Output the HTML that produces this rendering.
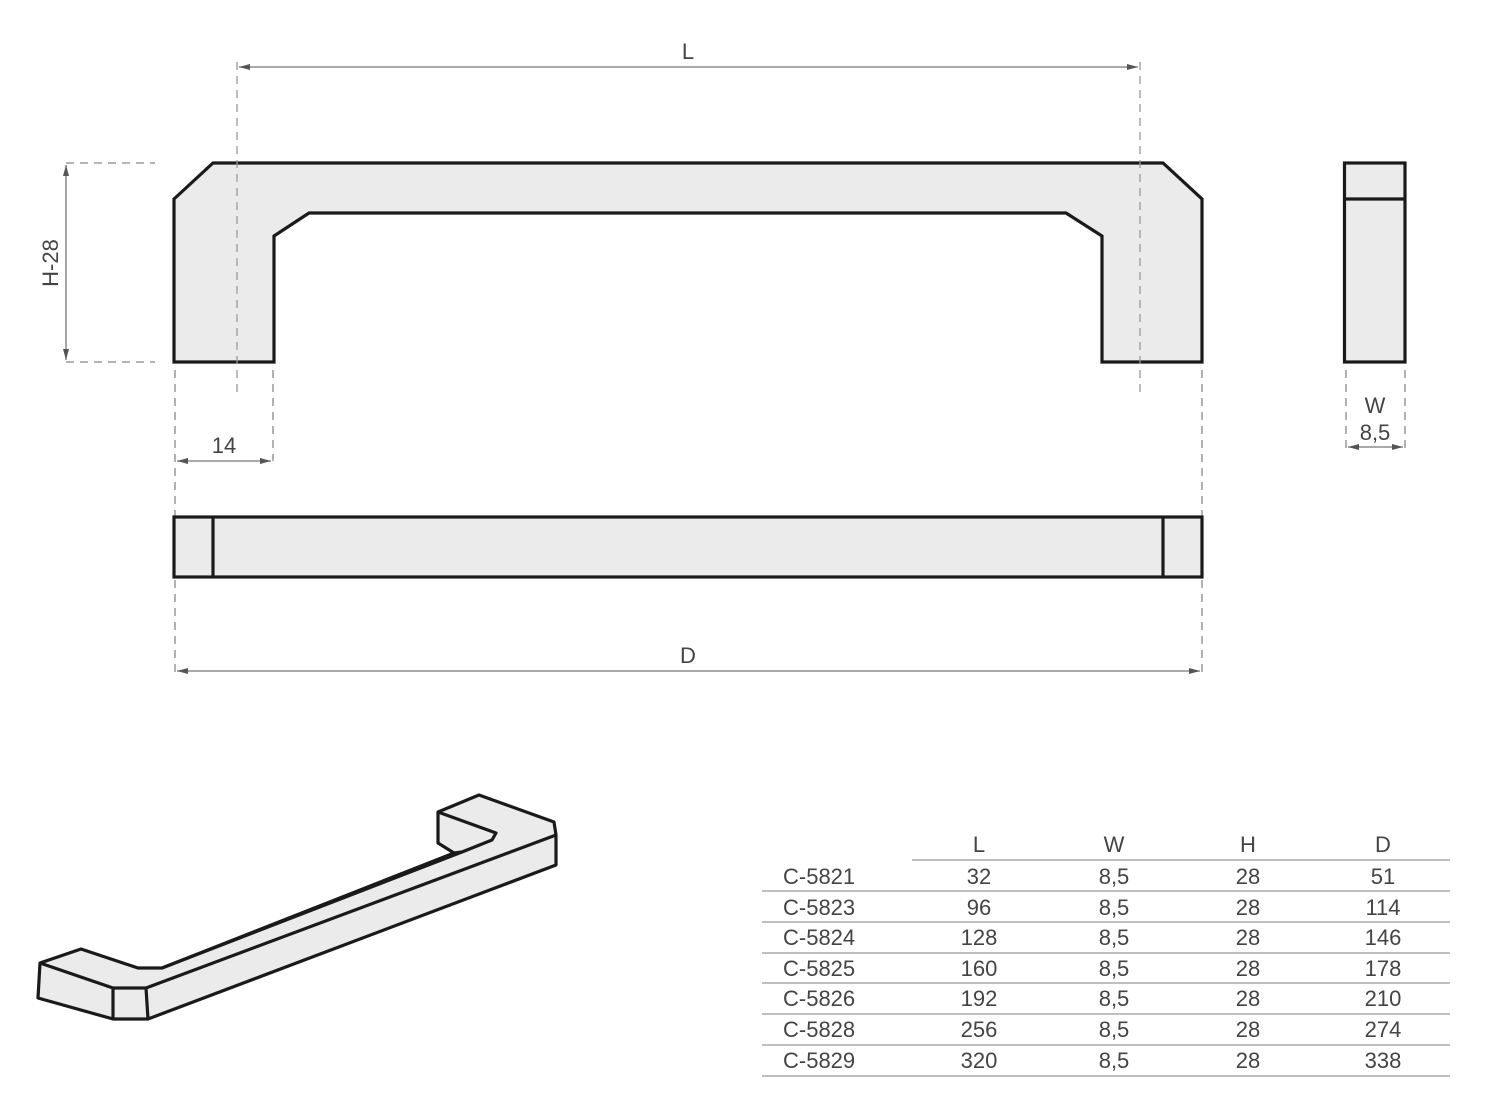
<!DOCTYPE html>
<html><head><style>
html,body{margin:0;padding:0;background:#fff;}
svg{display:block;}
text{font-family:"Liberation Sans",sans-serif;fill:#444;}
</style></head><body>
<svg width="1486" height="1116" viewBox="0 0 1486 1116" xmlns="http://www.w3.org/2000/svg">
<defs>
<marker id="a" markerWidth="12" markerHeight="8" refX="11" refY="4" orient="auto-start-reverse" markerUnits="userSpaceOnUse">
<path d="M0,1 L11,4 L0,7 Z" fill="#555"/></marker>
</defs>
<g stroke="#888" stroke-width="1.3" stroke-dasharray="8,6" fill="none">
<line x1="66" y1="163" x2="155" y2="163"/>
<line x1="66" y1="362" x2="155" y2="362"/>
<line x1="175" y1="370" x2="175" y2="675"/>
<line x1="273" y1="370" x2="273" y2="461"/>
<line x1="1202" y1="370" x2="1202" y2="675"/>
<line x1="1346" y1="370" x2="1346" y2="448"/>
<line x1="1405" y1="370" x2="1405" y2="448"/>
</g>
<g stroke="#777" stroke-width="1.3" fill="none">
<line x1="239" y1="67" x2="1138" y2="67" marker-start="url(#a)" marker-end="url(#a)"/>
<line x1="66" y1="165" x2="66" y2="360" marker-start="url(#a)" marker-end="url(#a)"/>
<line x1="177" y1="461" x2="271" y2="461" marker-start="url(#a)" marker-end="url(#a)"/>
<line x1="177" y1="671" x2="1200" y2="671" marker-start="url(#a)" marker-end="url(#a)"/>
<line x1="1348" y1="447" x2="1403" y2="447" marker-start="url(#a)" marker-end="url(#a)"/>
</g>
<g fill="#ebebeb" stroke="#1a1a1a" stroke-width="3.2" stroke-linejoin="miter">
<path d="M174,199 L213,163 L1163,163 L1202,199 L1202,362 L1102,362 L1102,236 L1066,213 L309,213 L274,236 L274,362 L174,362 Z"/>
<rect x="1344.5" y="163" width="60.5" height="199"/>
<line x1="1344" y1="199" x2="1405" y2="199"/>
<rect x="174" y="517" width="1028" height="60"/>
<line x1="213" y1="517" x2="213" y2="577"/>
<line x1="1163" y1="517" x2="1163" y2="577"/>
</g>
<g stroke="#999" stroke-width="1.3" stroke-dasharray="8,6" fill="none">
<line x1="237" y1="62" x2="237" y2="392"/>
<line x1="1140" y1="62" x2="1140" y2="392"/>
</g>
<g fill="#ebebeb" stroke="#1a1a1a" stroke-width="3.2" stroke-linejoin="round">
<path d="M40,963 L81,949 L138,968 L162,968 L454,853 L438,843 L438,812 L479,795 L554,822 L556,835 L556,865 L148,1019 L113,1019 L38,998 Z"/>
<path d="M40,963 L113,988 L146,988 L556,835" fill="none"/>
<path d="M113,988 L113,1019 M146,988 L148,1019" fill="none"/>
<path d="M438,812 L496,833 L492,840 L462,852 L162,968" fill="none"/>
<path d="M462,852 L454,853" fill="none"/>
</g>
<g font-size="22" text-anchor="middle">
<text x="688" y="59">L</text>
<text x="688" y="663">D</text>
<text x="224" y="453">14</text>
<text x="1375" y="413">W</text>
<text x="1375" y="440">8,5</text>
<text transform="translate(58,263) rotate(-90)">H-28</text>
</g>
<g stroke="#999" stroke-width="1.2">
<line x1="912" y1="860" x2="1450" y2="860"/>
<line x1="762" y1="891" x2="1450" y2="891"/>
<line x1="762" y1="922" x2="1450" y2="922"/>
<line x1="762" y1="953" x2="1450" y2="953"/>
<line x1="762" y1="983" x2="1450" y2="983"/>
<line x1="762" y1="1014" x2="1450" y2="1014"/>
<line x1="762" y1="1045" x2="1450" y2="1045"/>
<line x1="762" y1="1076" x2="1450" y2="1076"/>
</g>
<g font-size="22">
<g text-anchor="middle">
<text x="979" y="852">L</text><text x="1114" y="852">W</text><text x="1248" y="852">H</text><text x="1383" y="852">D</text>
<text x="979" y="884">32</text><text x="1114" y="884">8,5</text><text x="1248" y="884">28</text><text x="1383" y="884">51</text>
<text x="979" y="915">96</text><text x="1114" y="915">8,5</text><text x="1248" y="915">28</text><text x="1383" y="915">114</text>
<text x="979" y="945">128</text><text x="1114" y="945">8,5</text><text x="1248" y="945">28</text><text x="1383" y="945">146</text>
<text x="979" y="976">160</text><text x="1114" y="976">8,5</text><text x="1248" y="976">28</text><text x="1383" y="976">178</text>
<text x="979" y="1006">192</text><text x="1114" y="1006">8,5</text><text x="1248" y="1006">28</text><text x="1383" y="1006">210</text>
<text x="979" y="1037">256</text><text x="1114" y="1037">8,5</text><text x="1248" y="1037">28</text><text x="1383" y="1037">274</text>
<text x="979" y="1068">320</text><text x="1114" y="1068">8,5</text><text x="1248" y="1068">28</text><text x="1383" y="1068">338</text>
</g>
<text x="783" y="884">C-5821</text>
<text x="783" y="915">C-5823</text>
<text x="783" y="945">C-5824</text>
<text x="783" y="976">C-5825</text>
<text x="783" y="1006">C-5826</text>
<text x="783" y="1037">C-5828</text>
<text x="783" y="1068">C-5829</text>
</g>
</svg>
</body></html>
